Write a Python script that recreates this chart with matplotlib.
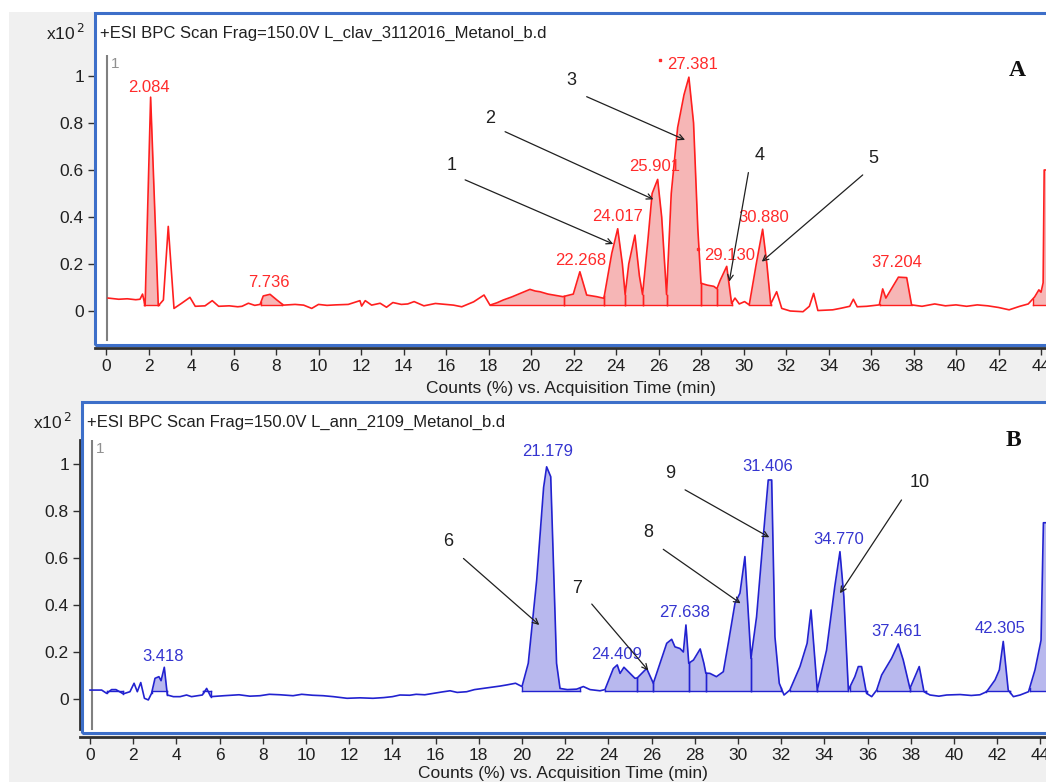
import numpy as np
import matplotlib.pyplot as plt
from matplotlib.patches import Rectangle

plt.rcParams['font.family'] = ['Liberation Sans', 'DejaVu Sans']

W, H = 1046, 782

# ---------------- panel A : L_clav (red) ----------------
a_time = [0.1, 0.6, 1.0, 1.4, 1.6, 1.72, 1.84, 2.1, 2.46, 2.7, 2.93, 3.2, 3.56, 3.95,
          4.2, 4.66, 5.0, 5.3, 5.8, 6.2, 6.4, 6.7, 7.0, 7.25, 7.4, 7.72, 8.04, 8.35,
          8.9, 9.3, 9.68, 10.0, 10.4, 10.8, 11.4, 11.95, 12.03, 12.2, 12.5, 12.9, 13.2,
          13.5, 13.9, 14.2, 14.5, 14.96, 15.5, 16.0, 16.35, 16.74, 17.3, 17.79, 18.07,
          18.4, 18.7, 19.1, 19.5, 19.95, 20.2, 20.42, 20.8, 21.05, 21.5, 21.99, 22.3,
          22.62, 23.09, 23.43, 23.8, 24.08, 24.3, 24.43, 24.6, 24.89, 25.1, 25.25, 25.5,
          25.7, 25.96, 26.15, 26.38, 26.6, 26.9, 27.2, 27.43, 27.65, 27.85, 28.0, 28.3,
          28.6, 28.75, 28.9, 29.21, 29.44, 29.6, 29.8, 30.05, 30.27, 30.6, 30.9, 31.1,
          31.28, 31.56, 31.8, 32.2, 32.8, 33.1, 33.3, 33.5, 34.2, 34.6, 35.0, 35.17,
          35.35, 35.8, 36.39, 36.55, 36.7, 37.29, 37.68, 37.91, 38.4, 39.0, 39.5, 40.0,
          40.5, 41.0, 41.5, 42.0, 42.5, 43.0, 43.4, 43.7, 43.9, 44.0, 44.1, 44.15, 44.3]
a_int = [0.055, 0.05, 0.052, 0.048, 0.05, 0.072, 0.022, 0.91, 0.022, 0.047, 0.36, 0.011,
         0.033, 0.058, 0.02, 0.022, 0.044, 0.02, 0.022, 0.018, 0.02, 0.033, 0.024, 0.028,
         0.064, 0.071, 0.047, 0.025, 0.028, 0.025, 0.011, 0.028, 0.024, 0.026, 0.028,
         0.044, 0.021, 0.044, 0.025, 0.033, 0.016, 0.036, 0.028, 0.03, 0.04, 0.022,
         0.032, 0.028, 0.025, 0.018, 0.039, 0.068, 0.025, 0.035, 0.047, 0.06, 0.075,
         0.092, 0.085, 0.082, 0.072, 0.068, 0.061, 0.072, 0.167, 0.068, 0.061, 0.054,
         0.245, 0.35, 0.2, 0.07, 0.2, 0.323, 0.15, 0.07, 0.3, 0.5, 0.56, 0.4, 0.07, 0.5,
         0.78, 0.92, 0.995, 0.8, 0.35, 0.118, 0.11, 0.105, 0.095, 0.13, 0.19, 0.032,
         0.055, 0.03, 0.04, 0.026, 0.2, 0.348, 0.2, 0.03, 0.082, 0.011, 0.0, -0.003,
         0.02, 0.075, 0.002, 0.005, 0.012, 0.02, 0.05, 0.018, 0.02, 0.026, 0.094, 0.055,
         0.144, 0.142, 0.026, 0.02, 0.03, 0.022, 0.026, 0.02, 0.026, 0.022, 0.015, 0.005,
         0.02, 0.03, 0.06, 0.09, 0.08, 0.12, 0.6, 0.6]
a_segments = [(1.8, 2.5), (7.3, 8.3), (18.07, 21.55), (21.55, 23.45), (23.45, 24.43),
              (24.43, 25.25), (25.25, 26.38), (26.38, 28.0), (28.0, 28.75), (28.75, 29.45),
              (30.27, 31.28), (36.4, 37.95), (43.6, 44.3)]
a_labels = ['2.084', '7.736', '22.268', '24.017', '25.901', '27.381', '29.130', '30.880', '37.204']
a_label_x = [2.02, 7.67, 22.33, 24.09, 25.84, 27.62, 29.36, 30.96, 37.22]
a_label_y = [0.953, 0.12, 0.213, 0.404, 0.617, 1.047, 0.238, 0.40, 0.208]
a_dots_x = [26.07, 27.86]
a_dots_y = [1.07, 0.264]
a_num = ['1', '2', '3', '4', '5']
a_num_xy = [(16.27, 0.62), (18.07, 0.82), (21.92, 0.98), (30.78, 0.66), (36.1, 0.65)]
a_tail = [(16.9, 0.558), (18.78, 0.763), (22.62, 0.912), (30.23, 0.589), (35.61, 0.579)]
a_tip = [(23.87, 0.285), (25.76, 0.475), (27.25, 0.728), (29.33, 0.125), (30.86, 0.21)]

# ---------------- panel B : L_ann (blue) ----------------
b_time = [0.0, 0.54, 0.77, 1.0, 1.2, 1.54, 1.85, 2.04, 2.19, 2.35, 2.52, 2.7, 2.85, 3.01,
          3.19, 3.29, 3.44, 3.58, 3.86, 4.17, 4.47, 4.7, 5.2, 5.4, 5.59, 6.2, 6.9, 7.4,
          7.87, 8.3, 8.8, 9.4, 9.8, 10.3, 10.8, 11.27, 11.9, 12.5, 13.1, 13.6, 14.0,
          14.35, 14.8, 15.1, 15.5, 15.9, 16.3, 16.67, 17.0, 17.44, 17.8, 18.2, 18.6,
          18.98, 19.3, 19.7, 20.0, 20.29, 20.68, 21.0, 21.14, 21.33, 21.6, 21.76, 22.1,
          22.53, 22.84, 23.15, 23.61, 23.84, 24.23, 24.41, 24.54, 24.72, 25.0, 25.23,
          25.34, 25.77, 26.08, 26.39, 26.7, 26.93, 27.08, 27.31, 27.47, 27.59, 27.72,
          27.94, 28.25, 28.42, 28.51, 28.7, 29.0, 29.32, 29.55, 29.86, 30.09, 30.32,
          30.6, 30.86, 31.17, 31.4, 31.56, 31.71, 31.91, 32.13, 32.4, 32.87, 33.2, 33.38,
          33.67, 34.1, 34.48, 34.72, 34.9, 35.11, 35.41, 35.57, 35.72, 35.95, 36.19,
          36.42, 36.65, 37.11, 37.42, 37.65, 37.96, 38.39, 38.61, 38.89, 39.3, 39.66,
          40.28, 40.8, 41.2, 41.51, 41.9, 42.1, 42.28, 42.51, 42.75, 43.06, 43.45,
          43.75, 44.03, 44.14, 44.3]
b_int = [0.038, 0.038, 0.024, 0.04, 0.04, 0.022, 0.031, 0.067, 0.031, 0.07, 0.003,
         -0.004, 0.024, 0.088, 0.095, 0.078, 0.135, 0.017, 0.01, 0.01, 0.017, 0.01,
         0.017, 0.045, 0.01, 0.014, 0.018, 0.012, 0.014, 0.02, 0.018, 0.014, 0.02,
         0.016, 0.014, 0.01, 0.003, 0.005, 0.003, 0.006, 0.01, 0.017, 0.016, 0.02,
         0.018, 0.024, 0.03, 0.035, 0.028, 0.031, 0.04, 0.045, 0.05, 0.055, 0.06,
         0.067, 0.053, 0.152, 0.506, 0.9, 0.988, 0.946, 0.152, 0.045, 0.04, 0.042,
         0.053, 0.04, 0.035, 0.04, 0.13, 0.145, 0.109, 0.135, 0.109, 0.088, 0.09, 0.13,
         0.067, 0.152, 0.237, 0.254, 0.222, 0.215, 0.2, 0.315, 0.152, 0.166, 0.213,
         0.152, 0.11, 0.109, 0.095, 0.116, 0.237, 0.407, 0.45, 0.606, 0.173, 0.35, 0.69,
         0.932, 0.932, 0.265, 0.067, 0.017, 0.038, 0.138, 0.237, 0.379, 0.038, 0.208,
         0.478, 0.627, 0.436, 0.038, 0.095, 0.138, 0.138, 0.024, 0.01, 0.038, 0.102,
         0.173, 0.234, 0.166, 0.045, 0.138, 0.031, 0.017, 0.012, 0.017, 0.019, 0.015,
         0.018, 0.031, 0.081, 0.124, 0.245, 0.038, 0.01, 0.017, 0.031, 0.124, 0.25,
         0.75, 0.75]
b_segments = [(0.77, 1.54), (2.85, 3.58), (5.25, 5.6), (20.0, 22.7), (23.84, 25.34),
              (25.34, 26.08), (26.08, 27.72), (27.72, 28.51), (28.51, 30.6), (30.6, 32.0),
              (32.4, 33.67), (33.67, 35.11), (35.2, 35.95), (36.42, 37.96), (37.96, 38.7),
              (41.5, 42.6), (43.5, 44.3)]
b_labels = ['3.418', '21.179', '24.409', '27.638', '31.406', '34.770', '37.461', '42.305']
b_label_x = [3.36, 21.18, 24.36, 27.52, 31.37, 34.68, 37.36, 42.13]
b_label_y = [0.18, 1.052, 0.19, 0.367, 0.99, 0.677, 0.286, 0.298]
b_num = ['6', '7', '8', '9', '10']
b_num_xy = [(16.56, 0.67), (22.53, 0.47), (25.85, 0.71), (26.85, 0.96), (38.39, 0.92)]
b_tail = [(17.29, 0.598), (23.23, 0.404), (26.54, 0.637), (27.55, 0.89), (37.57, 0.847)]
b_tip = [(20.8, 0.315), (25.85, 0.121), (30.12, 0.407), (31.45, 0.688), (34.72, 0.45)]

xticks = np.arange(0, 46, 2)
yticks = [0, 0.2, 0.4, 0.6, 0.8, 1]
ytick_lbl = ['0', '0.2', '0.4', '0.6', '0.8', '1']


def fx(px):
    return px / W


def fy(py):
    return 1 - py / H


fig = plt.figure(figsize=(W / 100, H / 100), dpi=100)
fig.patch.set_facecolor('white')
fig.add_artist(Rectangle((fx(9), 0), 1, fy(12), transform=fig.transFigure,
                         facecolor='#f0f0f0', edgecolor='none', zorder=-10))


def panel(box, ax_px, x0px, y0px, t, y, segs, base, line_c, fill_c, lab_c,
          labels, lx, ly, nums, nxy, tails, tips, title, letter, letter_px, stale_x, xlpad):
    # white pane with blue selection border
    l, tp, b = box
    fig.add_artist(Rectangle((fx(l), fy(b)), 1.2, fy(tp) - fy(b), transform=fig.transFigure,
                             facecolor='white', edgecolor='none', zorder=-5))
    fig.add_artist(Rectangle((fx(l), fy(b)), 1.2, fy(tp) - fy(b), transform=fig.transFigure,
                             facecolor='none', edgecolor='#3d6fc9', lw=2.2, zorder=10))
    left, top, bottom = ax_px
    ax = fig.add_axes([fx(left), fy(bottom), 1 - fx(left), fy(top) - fy(bottom)])
    ax.patch.set_visible(False)
    xmin = (left - x0px[0]) / x0px[1]
    xmax = (W - x0px[0]) / x0px[1]
    ymin = (y0px[0] - bottom) / 235
    ymax = (y0px[0] - top) / 235
    ax.set_xlim(xmin, xmax)
    ax.set_ylim(ymin, ymax)
    for s in ['top', 'right']:
        ax.spines[s].set_visible(False)
    ax.spines['left'].set_bounds(ymin + 8 / 235, ymax)
    for s in ['left', 'bottom']:
        ax.spines[s].set_linewidth(2)
        ax.spines[s].set_color('#303030')
    ax.set_xticks(xticks)
    ax.set_yticks(yticks)
    ax.set_yticklabels(ytick_lbl)
    ax.tick_params(length=5, width=1, color='#303030', labelsize=12.5, pad=3,
                   labelcolor='#202020')
    ax.set_xlabel('Counts (%) vs. Acquisition Time (min)', fontsize=12.5,
                  color='#202020', labelpad=xlpad)

    t = np.asarray(t)
    y = np.asarray(y)
    for t0, t1 in segs:
        m = (t > t0) & (t < t1)
        tt = np.concatenate([[t0], t[m], [t1]])
        yy = np.concatenate([[np.interp(t0, t, y)], y[m], [np.interp(t1, t, y)]])
        ax.fill_between(tt, yy, base, color=fill_c, lw=0, zorder=1)
        ax.plot([t0, t1], [base, base], color=line_c, lw=1, zorder=2)
        ax.plot([t0, t0], [base, yy[0]], color=line_c, lw=1, zorder=2)
        ax.plot([t1, t1], [base, yy[-1]], color=line_c, lw=1, zorder=2)
    ax.plot(t, y, color=line_c, lw=1.2, zorder=3, clip_on=True)

    # start marker
    ax.plot([stale_x, stale_x], [ymin + 8 / 235, ymax], color='#808080', lw=1.5)
    ax.text(stale_x + 0.2, ymax - 0.01, '1', color='#909090', fontsize=11, va='top')

    for s, px, py in zip(labels, lx, ly):
        ax.text(px, py, s, color=lab_c, fontsize=12, ha='center', va='center')
    for s, (px, py), tl, tip in zip(nums, nxy, tails, tips):
        ax.text(px, py, s, color='#202020', fontsize=13, ha='center', va='center')
        ax.annotate('', xy=tip, xytext=tl,
                    arrowprops=dict(arrowstyle='->', color='#202020', lw=0.9,
                                    shrinkA=0, shrinkB=0, mutation_scale=10))

    fig.text(fx(l + 5), fy(tp + 20), title, fontsize=12, color='#202020', va='center')
    fig.text(fx(l - 10), fy(tp + 20), r'x10$^{\,2}$', fontsize=12.5, color='#202020',
             va='center', ha='right')
    fig.text(fx(letter_px[0]), fy(letter_px[1]), letter, fontsize=17, fontweight='bold',
             family='Liberation Serif', ha='center', va='center', color='#101010')
    return ax


axA = panel((95, 13, 345), (95, 55, 348), (106, 21.25), (311,), a_time, a_int, a_segments,
            0.026, '#ff1f1f', '#f6b6b6', '#ff2b2b', a_labels, a_label_x, a_label_y,
            a_num, a_num_xy, a_tail, a_tip,
            '+ESI BPC Scan Frag=150.0V L_clav_3112016_Metanol_b.d', 'A', (1017, 70), 0.05, 5)
axA.plot(a_dots_x, a_dots_y, 's', color='#ff2b2b', ms=2, zorder=4)

axB = panel((82, 402, 733), (80, 440, 737), (90, 21.6), (699,), b_time, b_int, b_segments,
            0.032, '#2222d0', '#b8b8ee', '#3535d0', b_labels, b_label_x, b_label_y,
            b_num, b_num_xy, b_tail, b_tip,
            '+ESI BPC Scan Frag=150.0V L_ann_2109_Metanol_b.d', 'B', (1013, 441), 0.09, 2)

fig.savefig('out.png', dpi=100, facecolor=fig.get_facecolor())
